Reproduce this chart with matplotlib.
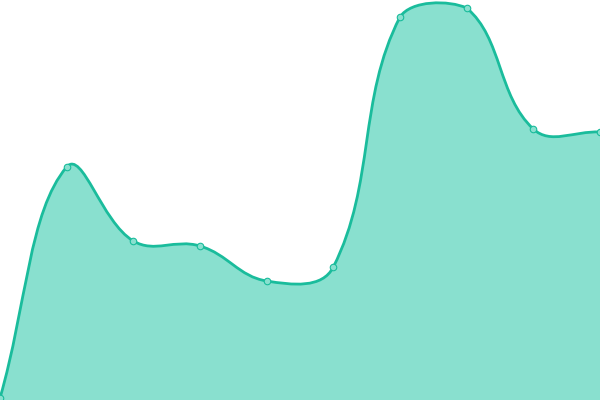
import numpy as np
import matplotlib
matplotlib.use("Agg")
import matplotlib.pyplot as plt
from matplotlib.path import Path
from matplotlib.patches import PathPatch

# Data (y axis 0..400)
x_vals = [0, 1, 2, 3, 4, 5, 6, 7, 8, 9]
y_vals = [2, 233, 159, 154, 119, 133, 383, 392, 271, 268]

LINE = "#1abc9c"
FILL = "#89e0cf"
TENSION = 0.4
YMIN, YMAX = 0, 400
XMIN, XMAX = 0, 9

fig = plt.figure(figsize=(6, 4), dpi=100)
ax = fig.add_axes([0, 0, 1, 1])
ax.set_xlim(XMIN, XMAX)
ax.set_ylim(YMIN, YMAX)
ax.axis("off")

# Work in pixel space for spline control points (Chart.js-like)
def to_px(x, y):
    return np.array([x * 600 / XMAX, y * 400 / YMAX], dtype=float)

def from_px(p):
    return (p[0] * XMAX / 600, p[1] * YMAX / 400)

pts = [to_px(x, y) for x, y in zip(x_vals, y_vals)]
n = len(pts)
cps = []
for i in range(n):
    prev = pts[i - 1] if i > 0 else pts[i]
    cur = pts[i]
    nxt = pts[i + 1] if i < n - 1 else pts[i]
    d01 = np.hypot(*(cur - prev))
    d12 = np.hypot(*(nxt - cur))
    tot = d01 + d12
    s01 = d01 / tot if tot else 0
    s12 = d12 / tot if tot else 0
    fa = TENSION * s01
    fb = TENSION * s12
    v = nxt - prev
    cp_prev = cur - fa * v
    cp_next = cur + fb * v
    for c in (cp_prev, cp_next):
        c[0] = min(max(c[0], 0), 600)
        c[1] = min(max(c[1], 0), 400)
    cps.append((cp_prev, cp_next))

verts = [from_px(pts[0])]
codes = [Path.MOVETO]
for i in range(n - 1):
    verts += [from_px(cps[i][1]), from_px(cps[i + 1][0]), from_px(pts[i + 1])]
    codes += [Path.CURVE4] * 3

line_path = Path(verts, codes)
fill_verts = verts + [(x_vals[-1], YMIN), (x_vals[0], YMIN), verts[0]]
fill_codes = codes + [Path.LINETO, Path.LINETO, Path.CLOSEPOLY]
ax.add_patch(PathPatch(Path(fill_verts, fill_codes), facecolor=FILL, edgecolor="none", zorder=1))
ax.add_patch(PathPatch(line_path, facecolor="none", edgecolor=LINE, linewidth=2.0, zorder=2, capstyle="round", joinstyle="round"))

ax.scatter(x_vals, y_vals, s=22, facecolor=FILL, edgecolor=LINE, linewidth=0.8, zorder=3, clip_on=True)

fig.savefig("out.png", dpi=100)
